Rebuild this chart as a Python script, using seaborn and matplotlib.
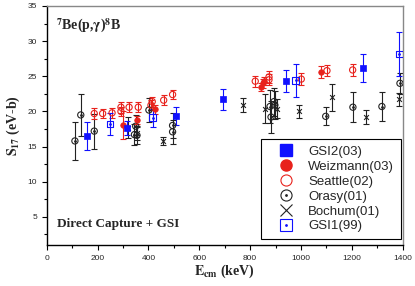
import matplotlib
matplotlib.use('Agg')
import matplotlib.pyplot as plt
from matplotlib.lines import Line2D
from matplotlib.ticker import MultipleLocator
import seaborn as sns
import pandas as pd

# S17 data (E in keV, S17 in eV-b)
gsi2_e = [160, 317, 507, 694, 941, 1244]
gsi2_s = [16.5, 17.6, 19.4, 21.7, 24.3, 26.2]
gsi2_err = [2.0, 1.0, 1.3, 1.45, 1.6, 2.0]

weiz_e = [301, 355, 425, 843, 849, 856, 1079]
weiz_s = [18.1, 18.8, 20.3, 23.5, 24.0, 24.3, 25.6]
weiz_err = [2.0, 0.6, 0.6, 0.6, 0.6, 0.6, 0.9]

seattle_e = [187, 220, 257, 292, 292, 324, 360, 410, 415, 460, 495, 820, 874, 874, 1001, 1102, 1203]
seattle_s = [19.7, 19.7, 19.8, 20.6, 20.0, 20.6, 20.6, 20.9, 21.4, 21.6, 22.4, 24.3, 24.5, 24.9, 24.6, 25.8, 25.9]
seattle_err = [0.75, 0.7, 0.7, 0.8, 0.7, 0.7, 0.7, 0.7, 0.7, 0.7, 0.7, 0.8, 0.8, 0.8, 0.9, 0.8, 0.8]

orasy_e = [111, 134, 187, 345, 350, 355, 402, 495, 495, 878, 882, 894, 897, 1097, 1204, 1318, 1389]
orasy_s = [15.8, 19.5, 17.2, 16.7, 17.9, 16.6, 20.2, 18.0, 17.1, 20.7, 19.2, 21.4, 20.9, 19.3, 20.6, 20.7, 24.0]
orasy_err = [2.7, 3.0, 2.5, 1.5, 1.6, 1.2, 1.7, 1.8, 1.7, 2.3, 2.3, 2.0, 2.0, 1.3, 2.1, 2.0, 1.5]

bochum_e = [320, 356, 459, 771, 858, 904, 991, 1123, 1254, 1387]
bochum_s = [17.7, 16.9, 15.8, 20.9, 20.4, 20.4, 20.0, 22.0, 19.2, 21.7]
bochum_err = [1.5, 1.0, 0.6, 1.0, 2.1, 1.4, 0.9, 1.9, 1.0, 0.9]

gsi1_e = [249, 417, 979, 1387]
gsi1_s = [18.2, 19.1, 24.4, 28.2]
gsi1_err = [1.6, 1.25, 2.35, 3.1]

labels = ['GSI2(03)', 'Weizmann(03)', 'Seattle(02)', 'Orasy(01)', 'Bochum(01)', 'GSI1(99)']

frames = []
for lab, e, s, err in zip(labels,
                          [gsi2_e, weiz_e, seattle_e, orasy_e, bochum_e, gsi1_e],
                          [gsi2_s, weiz_s, seattle_s, orasy_s, bochum_s, gsi1_s],
                          [gsi2_err, weiz_err, seattle_err, orasy_err, bochum_err, gsi1_err]):
    frames.append(pd.DataFrame({'E': e, 'S': s, 'err': err, 'set': lab}))
df = pd.concat(frames, ignore_index=True)

blue = '#1010ff'
red = '#e8221c'
dark = '#222222'

# marker style per data set
styles = {
    'Bochum(01)': dict(marker='x', s=12, color=dark, linewidth=0.8),
    'Orasy(01)': dict(marker='o', s=20, facecolor='none', edgecolor=dark, linewidth=0.8),
    'Seattle(02)': dict(marker='o', s=20, facecolor='none', edgecolor=red, linewidth=0.8),
    'GSI1(99)': dict(marker='s', s=22, facecolor='none', edgecolor=blue, linewidth=0.8),
    'Weizmann(03)': dict(marker='o', s=16, color=red, edgecolor=red, linewidth=0.5),
    'GSI2(03)': dict(marker='s', s=20, color=blue, edgecolor=blue, linewidth=0.5),
}
err_colors = {'Bochum(01)': dark, 'Orasy(01)': dark, 'Seattle(02)': red,
              'GSI1(99)': blue, 'Weizmann(03)': red, 'GSI2(03)': blue}

sns.set_style('ticks')
plt.rcParams['font.family'] = ['Liberation Sans', 'DejaVu Sans']
plt.rcParams['mathtext.fontset'] = 'stix'

fig = plt.figure(figsize=(4.15, 2.86), dpi=100)
ax = fig.add_axes([0.1125, 0.1434, 0.858, 0.8357])

draw_order = ['Bochum(01)', 'Orasy(01)', 'Seattle(02)', 'GSI1(99)', 'Weizmann(03)', 'GSI2(03)']
for lab in draw_order:
    sub = df[df['set'] == lab]
    ax.errorbar(sub['E'], sub['S'], yerr=sub['err'], fmt='none',
                ecolor=err_colors[lab], elinewidth=0.8, capsize=2, capthick=0.8, zorder=2)
    sns.scatterplot(data=sub, x='E', y='S', ax=ax, legend=False, zorder=3, **styles[lab])
    if lab in ('Orasy(01)', 'GSI1(99)'):
        ax.scatter(sub['E'], sub['S'], s=1, color=err_colors[lab], zorder=4)

ax.set_xlim(0, 1400)
ax.set_ylim(1, 35)
ax.xaxis.set_major_locator(MultipleLocator(200))
ax.xaxis.set_minor_locator(MultipleLocator(100))
ax.yaxis.set_major_locator(MultipleLocator(5))
ax.yaxis.set_minor_locator(MultipleLocator(2.5))
ax.tick_params(which='both', direction='out', labelsize=6, width=0.8, color='black')
ax.tick_params(which='major', length=3.5)
ax.tick_params(which='minor', length=2)
for side in ['left', 'bottom']:
    ax.spines[side].set_color('black')
    ax.spines[side].set_linewidth(1.0)
for side in ['top', 'right']:
    ax.spines[side].set_visible(True)
    ax.spines[side].set_color('#888888')
    ax.spines[side].set_linewidth(1.0)

serif = ['Liberation Serif', 'DejaVu Serif']
ax.set_xlabel(r'$\mathbf{E_{cm}}$ (keV)', family=serif, fontweight='bold', fontsize=10, labelpad=1)
ax.set_ylabel(r'$\mathbf{S_{17}}$ (eV-b)', family=serif, fontweight='bold', fontsize=10, labelpad=4)
ax.text(0.025, 0.955, r'$^{\mathbf{7}}$Be(p,$\mathbf{\gamma}$)$^{\mathbf{8}}$B',
        transform=ax.transAxes, family=serif, fontweight='bold', fontsize=10, va='top')
ax.text(0.03, 0.075, 'Direct Capture + GSI', transform=ax.transAxes,
        family=serif, fontweight='bold', fontsize=9.5)

# legend handles
h_gsi2 = Line2D([], [], marker='s', ls='none', ms=8, color=blue)
h_weiz = Line2D([], [], marker='o', ls='none', ms=8, color=red)
h_seat = Line2D([], [], marker='o', ls='none', ms=8, mfc='none', mec=red, mew=0.8)
h_oras = (Line2D([], [], marker='o', ls='none', ms=8, mfc='none', mec=dark, mew=0.8),
          Line2D([], [], marker='.', ls='none', ms=2, color=dark))
h_boch = Line2D([], [], marker='x', ls='none', ms=8, color=dark, mew=0.8)
h_gsi1 = (Line2D([], [], marker='s', ls='none', ms=8, mfc='none', mec=blue, mew=0.8),
          Line2D([], [], marker='.', ls='none', ms=2, color=blue))
leg = ax.legend([h_gsi2, h_weiz, h_seat, h_oras, h_boch, h_gsi1], labels,
                loc='lower right', bbox_to_anchor=(0.994, 0.025), fontsize=9.5,
                frameon=True, fancybox=False, framealpha=1, edgecolor='black',
                borderpad=0.5, labelspacing=0.2, handlelength=2.8, handletextpad=0.3,
                borderaxespad=0)
leg.get_frame().set_linewidth(0.8)

fig.savefig('out.png', dpi=100)
